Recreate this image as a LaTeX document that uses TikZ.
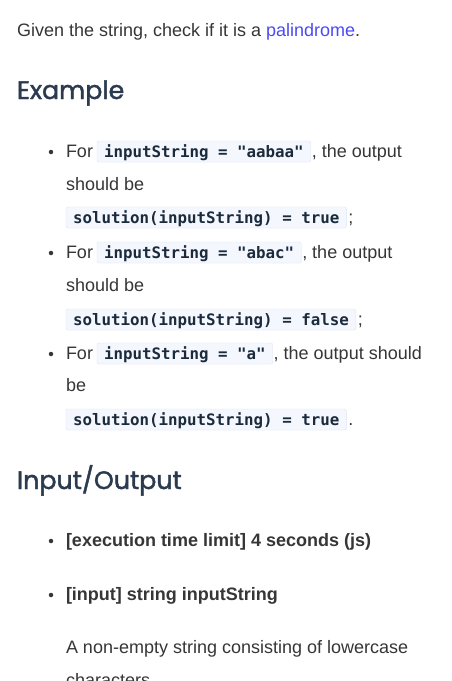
\documentclass[tikz,border=0pt]{standalone}
\usepackage{xcolor}
\usepackage{fontspec}
\setmainfont{Liberation Sans}
\newfontfamily\headfont[FakeBold=1.6]{Poppins}
\newfontfamily\codefont{DejaVu Sans Mono}
\usetikzlibrary{positioning}

\definecolor{bodytext}{HTML}{363636}
\definecolor{headtext}{HTML}{2B3A4E}
\definecolor{codetext}{HTML}{1C2B3C}
\definecolor{codefill}{HTML}{F4F7FE}
\definecolor{codeline}{HTML}{DCE4F5}
\definecolor{linkblue}{HTML}{4B4BF5}

\tikzset{
  txt/.style={inner sep=0pt, outer sep=0pt, anchor=base west, text=bodytext,
    font=\fontsize{18}{21}\selectfont},
  boldtxt/.style={txt, font=\fontsize{18}{21}\selectfont\bfseries},
  heading/.style={inner sep=0pt, outer sep=0pt, anchor=base west, text=headtext,
    font=\headfont\fontsize{25.3}{30}\selectfont},
  code/.style={draw=codeline, fill=codefill, rounded corners=2pt, anchor=base west,
    outer sep=0pt, inner xsep=7pt, inner ysep=4pt, text height=12pt, text depth=1pt,
    text=codetext, font=\codefont\fontsize{15.8}{18}\selectfont\bfseries},
  dot/.style={circle, fill=bodytext, inner sep=0pt, minimum size=4.5pt}
}

\begin{document}
\begin{tikzpicture}[x=1pt,y=-1pt]
  \clip (0,0) rectangle (451,681);
  \fill[white] (0,0) rectangle (451,681);

  \node[txt] (intro) at (17,36) {Given the string, check if it is a \textcolor{linkblue}{palindrome}.};
  \node[heading] (exhead) at (17,99) {Example};

  % first example
  \node[dot] (b1) at (51,152) {};
  \node[txt] (for1) at (66,157) {For};
  \node[code] (in1) at ([xshift=4pt]for1.base east) {inputString = "aabaa"};
  \node[txt] (rest1) at ([xshift=1pt]in1.base east) {, the output};
  \node[txt] (sb1) at (66,190) {should be};
  \node[code] (out1) at (66,223) {solution(inputString) = true};
  \node[txt] (end1) at ([xshift=2pt]out1.base east) {;};

  % second example
  \node[dot] (b2) at (51,253) {};
  \node[txt] (for2) at (66,258) {For};
  \node[code] (in2) at ([xshift=4pt]for2.base east) {inputString = "abac"};
  \node[txt] (rest2) at ([xshift=1pt]in2.base east) {, the output};
  \node[txt] (sb2) at (66,291) {should be};
  \node[code] (out2) at (66,325) {solution(inputString) = false};
  \node[txt] (end2) at ([xshift=2pt]out2.base east) {;};

  % third example
  \node[dot] (b3) at (51,354) {};
  \node[txt] (for3) at (66,359) {For};
  \node[code] (in3) at ([xshift=4pt]for3.base east) {inputString = "a"};
  \node[txt] (rest3) at ([xshift=1pt]in3.base east) {, the output should};
  \node[txt] (sb3) at (66,391) {be};
  \node[code] (out3) at (66,425) {solution(inputString) = true};
  \node[txt] (end3) at ([xshift=2pt]out3.base east) {.};

  \node[heading] (iohead) at (17,489) {Input/Output};

  \node[dot] (b4) at (51,541) {};
  \node[boldtxt] (limit) at (66,546) {[execution time limit] 4 seconds (js)};
  \node[dot] (b5) at (51,595) {};
  \node[boldtxt] (input) at (66,600) {[input] string inputString};
  \node[txt] (desc) at (66,653) {A non-empty string consisting of lowercase};
  \node[txt] (desc2) at (66,686) {characters.};
\end{tikzpicture}
\end{document}
